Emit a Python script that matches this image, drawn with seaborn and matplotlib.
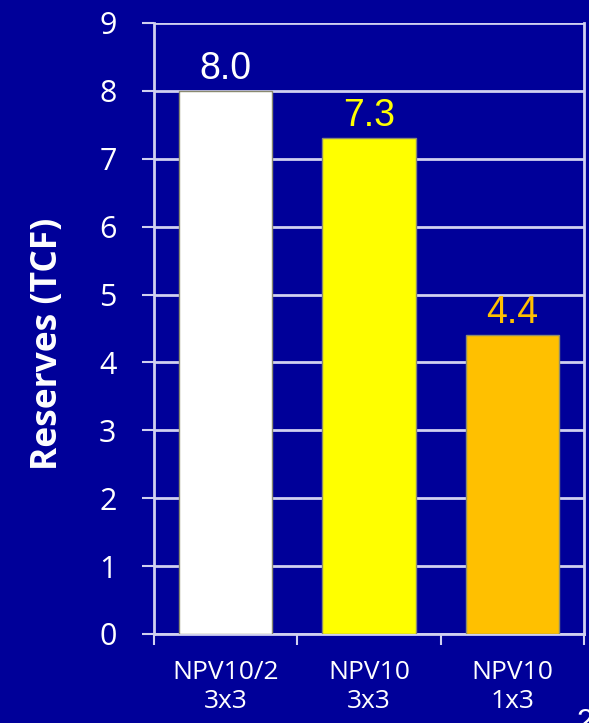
import matplotlib
matplotlib.use("Agg")
import matplotlib.pyplot as plt
import seaborn as sns
import pandas as pd
from matplotlib.ticker import FixedLocator

categories = ["NPV10/2\n3x3", "NPV10\n3x3", "NPV10\n1x3"]
values = [8.0, 7.3, 4.4]
value_labels = ["8.0", "7.3", "4.4"]
bar_colors = ["#FFFFFF", "#FFFF00", "#FFC000"]
label_colors = ["#FFFFFF", "#FFFF00", "#FFC000"]
y_ticks = list(range(0, 10))

BG = "#000099"
GRID = "#D0D0F0"

sns.set_theme(style="white")
plt.rcParams["font.family"] = ["Open Sans", "DejaVu Sans"]

df = pd.DataFrame({"cat": categories, "val": values})

fig = plt.figure(figsize=(5.89, 7.23), dpi=100, facecolor=BG)
ax = fig.add_axes([0.2615, 0.1231, 0.7300, 0.8451])
ax.set_facecolor(BG)

sns.barplot(data=df, x="cat", y="val", hue="cat", palette=bar_colors,
            saturation=1, width=0.65, edgecolor="#8A8A70", linewidth=1.0,
            legend=False, ax=ax, zorder=3)

ax.set_xlim(-0.5, 2.5)
ax.set_ylim(0, 9)
ax.set_yticks(y_ticks)
ax.yaxis.grid(True, color=GRID, linewidth=2.0, zorder=0)
ax.set_axisbelow(True)

ax.spines["top"].set_visible(False)
for s in ["left", "bottom", "right"]:
    ax.spines[s].set_visible(True)
    ax.spines[s].set_color(GRID)
    ax.spines[s].set_linewidth(2.0)

ax.tick_params(axis="y", colors=GRID, length=9, width=1.5, direction="out",
               pad=18, labelsize=22, labelcolor="white", left=True)
ax.tick_params(axis="x", which="major", length=0, pad=19, labelsize=19,
               labelcolor="white")
for t in ax.get_xticklabels():
    t.set_linespacing(1.2)
ax.xaxis.set_minor_locator(FixedLocator([-0.5, 0.5, 1.5, 2.5]))
ax.tick_params(axis="x", which="minor", bottom=True, length=8, width=1.5,
               color=GRID, direction="out")

ax.set_xlabel("")
ax.set_ylabel("Reserves (TCF)", fontsize=25.5, fontweight="bold", color="white")
ax.yaxis.set_label_coords(-0.204, 0.4746)

for i, (v, lab, c) in enumerate(zip(values, value_labels, label_colors)):
    ax.text(i, v + 0.06, lab, ha="center", va="bottom", fontsize=27,
            color=c, family="Liberation Sans", zorder=4)

fig.text(577 / 589, 1 - 708 / 723, "2", ha="left", va="top", fontsize=22,
         color="white", family="Liberation Sans")

fig.savefig("out.png", dpi=100, facecolor=BG)
